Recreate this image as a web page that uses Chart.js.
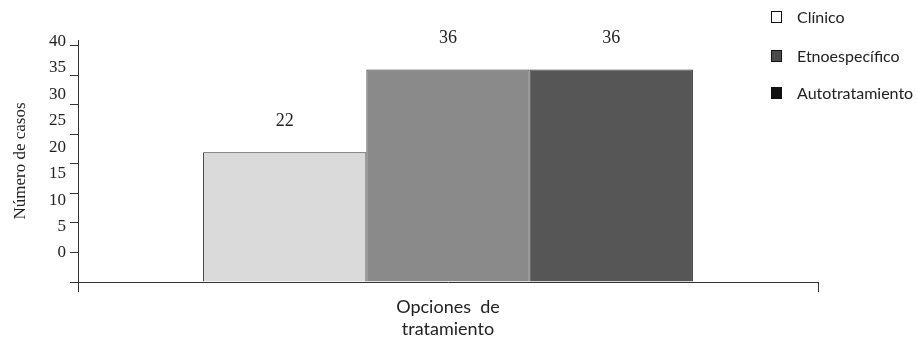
<!DOCTYPE html>
<html>
<head>
<meta charset="utf-8">
<script src="https://cdn.jsdelivr.net/npm/chart.js@4"></script>
<style>
  html, body { margin: 0; padding: 0; background: #fff; }
  #wrap { position: relative; width: 917px; height: 337px; }
  #legend { position: absolute; left: 771px; top: 0; font-family: Lato, sans-serif; font-size: 16px; color: #222; }
  .li { position: absolute; left: 0; white-space: nowrap; height: 18px; line-height: 18px; }
  .sw { position: absolute; left: 0; top: 3px; width: 11px; height: 12px; border: 1px solid #111; box-sizing: border-box; }
  .lt { position: absolute; left: 26px; top: 0; }
</style>
</head>
<body>
<div id="wrap">
  <canvas id="chart" width="917" height="337"></canvas>
  <div id="legend"></div>
</div>
<script>
// data
const seriesNames = ['Clínico', 'Etnoespecífico', 'Autotratamiento'];
const seriesValues = [22, 36, 36];
const barColors = ['#dadada', '#8a8a8a', '#565656'];
const legendSwatches = ['#ffffff', '#4a4a4a', '#111111'];
const yTickLabels = [0, 5, 10, 15, 20, 25, 30, 35, 40];
const xTitle = ['Opciones  de', 'tratamiento'];
const yTitle = 'Número de casos';

// legend (top right, drawn as html so it can sit over the plot width)
const legendTops = [8, 47, 84];
document.getElementById('legend').innerHTML = seriesNames.map((n, i) =>
  `<div class="li" style="top:${legendTops[i]}px;"><span class="sw" style="background:${legendSwatches[i]};"></span><span class="lt">${n}</span></div>`
).join('');

const valueLabels = {
  id: 'valueLabels',
  afterDatasetsDraw(chart) {
    const ctx = chart.ctx;
    ctx.save();
    ctx.font = '18px "Liberation Serif", serif';
    ctx.fillStyle = '#222';
    ctx.textAlign = 'center';
    ctx.textBaseline = 'middle';
    chart.data.datasets.forEach((ds, i) => {
      chart.getDatasetMeta(i).data.forEach((bar, j) => {
        ctx.fillText(ds.data[j], bar.x, bar.y - 31);
      });
    });
    ctx.restore();
  }
};

new Chart(document.getElementById('chart').getContext('2d'), {
  type: 'bar',
  data: {
    labels: [''],
    datasets: seriesNames.map((n, i) => ({
      label: n,
      data: [seriesValues[i]],
      backgroundColor: barColors[i],
      borderColor: '#333',
      borderWidth: 1,
      categoryPercentage: 0.662,
      barPercentage: 1,
      yAxisID: 'y'
    }))
  },
  options: {
    responsive: false,
    animation: false,
    layout: { padding: { left: 0, right: 99, top: 40, bottom: 0 } },
    plugins: { legend: { display: false }, tooltip: { enabled: false } },
    scales: {
      x: {
        grid: { display: true, drawOnChartArea: false, tickLength: 10, color: '#333' },
        border: { color: '#333' },
        ticks: { display: false },
        title: { display: true, text: xTitle, font: { family: 'Lato', size: 18 }, color: '#222', padding: { top: 0, bottom: -3 } },
        afterFit: s => { s.height = 55; }
      },
      y: {
        min: 0, max: 41,
        ticks: { display: false },
        afterBuildTicks: s => { s.ticks = yTickLabels.map(v => ({ value: v })); },
        grid: { drawOnChartArea: false, tickLength: 8, color: '#333' },
        border: { color: '#333' },
        afterFit: s => { s.width = 8; }
      },
      y2: {
        position: 'left',
        weight: 1,
        min: -5.5, max: 40.3,
        afterBuildTicks: s => { s.ticks = yTickLabels.map(v => ({ value: v })); },
        grid: { display: false, drawTicks: false },
        border: { display: false },
        ticks: { padding: 4, font: { family: 'Liberation Serif', size: 17 }, color: '#222' },
        title: { display: true, text: yTitle, font: { family: 'Liberation Serif', size: 17 }, color: '#222', padding: { top: 10, bottom: 0 } },
        afterFit: s => { s.width = 70; }
      }
    }
  },
  plugins: [valueLabels]
});
</script>
</body>
</html>
